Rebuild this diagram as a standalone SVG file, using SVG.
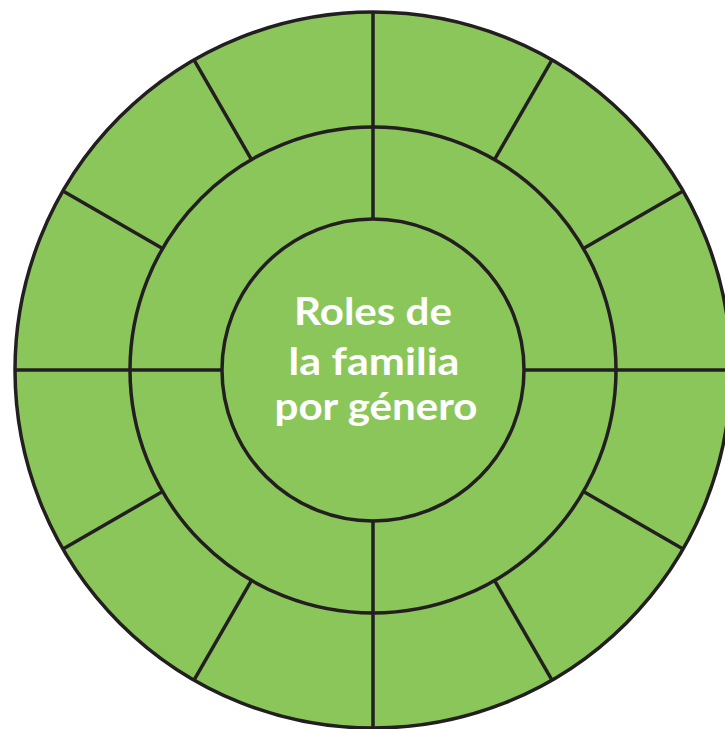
<svg xmlns="http://www.w3.org/2000/svg" width="725" height="729" viewBox="0 0 725 729">
<style>
.ring{fill:#8BC65A;stroke:#231F20;stroke-width:3.5}
.div{stroke:#231F20;stroke-width:3.5;fill:none}
.lbl{font-family:Lato,"Open Sans","Liberation Sans",sans-serif;font-weight:bold;font-size:38px;fill:#FFFFFF;text-anchor:middle}
</style>
<rect width="725" height="729" fill="#FFFFFF"/>
<g id="outer-ring"><circle class="ring" cx="373" cy="370" r="358"/></g>
<g id="middle-ring"><circle class="ring" cx="373" cy="370" r="243"/></g>
<g id="connectors">
<line class="div" x1="373" y1="127" x2="373" y2="219"/>
<line class="div" x1="130" y1="370" x2="222" y2="370"/>
<line class="div" x1="524" y1="370" x2="616" y2="370"/>
<line class="div" x1="373" y1="521" x2="373" y2="613"/>
<g transform="translate(373 370)">
<line class="div" x1="243" y1="0" x2="358" y2="0" transform="rotate(0)"/>
<line class="div" x1="243" y1="0" x2="358" y2="0" transform="rotate(-30)"/>
<line class="div" x1="243" y1="0" x2="358" y2="0" transform="rotate(-60)"/>
<line class="div" x1="243" y1="0" x2="358" y2="0" transform="rotate(-90)"/>
<line class="div" x1="243" y1="0" x2="358" y2="0" transform="rotate(-120)"/>
<line class="div" x1="243" y1="0" x2="358" y2="0" transform="rotate(-150)"/>
<line class="div" x1="243" y1="0" x2="358" y2="0" transform="rotate(-180)"/>
<line class="div" x1="243" y1="0" x2="358" y2="0" transform="rotate(-210)"/>
<line class="div" x1="243" y1="0" x2="358" y2="0" transform="rotate(-240)"/>
<line class="div" x1="243" y1="0" x2="358" y2="0" transform="rotate(-270)"/>
<line class="div" x1="243" y1="0" x2="358" y2="0" transform="rotate(-300)"/>
<line class="div" x1="243" y1="0" x2="358" y2="0" transform="rotate(-330)"/>
</g>
</g>
<g id="center">
<circle class="ring" cx="373" cy="370" r="151"/>
<text class="lbl" x="373" y="325" textLength="158" lengthAdjust="spacingAndGlyphs">Roles de</text>
<text class="lbl" x="374" y="375" textLength="171" lengthAdjust="spacingAndGlyphs">la familia</text>
<text class="lbl" x="376" y="420" textLength="203" lengthAdjust="spacingAndGlyphs">por género</text>
</g>
</svg>
